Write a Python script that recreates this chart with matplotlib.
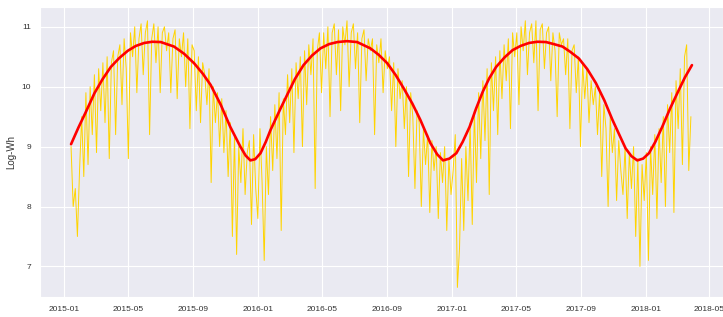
import numpy as np
import pandas as pd
import matplotlib
matplotlib.use("Agg")
import matplotlib.pyplot as plt
import matplotlib.dates as mdates
import seaborn as sns

sns.set_style("darkgrid")
plt.rcParams['font.family'] = ['Liberation Sans', 'DejaVu Sans']

# daily log-Wh readings, sampled every 4 days from 2015-01-14
log_wh_2015 = [
    9.0, 8.0, 8.3, 7.5, 8.6,
    9.5, 8.5, 9.9, 8.7, 10.0, 9.2, 10.2,
    8.9, 10.3, 9.6, 10.4, 9.4, 10.5, 8.8, 10.4,
    10.6, 9.2, 10.5, 10.7, 9.7, 10.8, 10.3,
    8.8, 10.9, 10.5, 11.0, 9.9, 10.8, 11.05, 10.2,
    10.9, 11.1, 9.2, 10.8, 11.05, 10.4, 11.0, 9.9,
    10.9, 11.0, 10.6, 10.9, 9.9, 10.8, 10.95,
    9.8, 10.8, 10.5, 10.9, 10.0, 10.8, 9.3, 10.7,
    10.6, 9.6, 10.5, 9.4, 10.4, 10.2, 9.7,
    10.3, 8.4, 10.0, 9.4, 9.9, 9.0, 9.8, 8.9,
    9.6, 8.5, 9.4, 7.5, 9.2, 7.2, 9.0, 8.4,
    9.3, 8.2, 8.9, 9.1, 7.7, 9.2, 8.3,
]
log_wh_2016 = [
    7.8, 9.3, 8.4, 7.1, 9.0, 8.2, 9.5, 8.6,
    9.7, 8.8, 9.9, 7.6, 9.8, 9.2, 10.2,
    9.4, 10.3, 8.9, 10.4, 9.8, 10.5, 9.0, 10.6,
    9.7, 10.7, 10.2, 10.8, 8.3, 10.6, 10.9, 9.9,
    10.9, 10.3, 11.0, 9.5, 10.9, 11.05, 10.2,
    10.95, 9.6, 11.0, 10.7, 11.1, 10.0, 10.9, 11.05,
    10.3, 10.9, 9.4, 10.8, 10.95, 10.1, 10.8, 10.6,
    10.8, 9.2, 10.7, 10.4, 10.8, 9.9, 10.6, 10.3,
    10.5, 9.6, 10.4, 9.0, 10.3, 9.8, 10.1,
    9.3, 10.0, 8.5, 9.9, 9.5, 8.3, 9.6, 9.4,
    8.0, 9.3, 8.7, 9.2, 7.9, 9.1, 8.6,
    9.0, 7.8, 8.9, 8.4, 9.0, 7.6, 8.8, 8.2,
]
log_wh_2017 = [
    8.6, 9.2, 6.65, 7.3, 8.8, 7.6, 9.0, 8.1,
    9.4, 7.7, 9.6, 8.4, 9.9, 8.8, 10.1,
    9.1, 10.3, 8.2, 10.4, 9.6, 10.5, 9.2, 10.6,
    9.8, 10.7, 10.1, 10.8, 9.3, 10.9, 10.5,
    10.9, 9.7, 11.0, 10.6, 11.1, 10.2, 10.9, 11.05,
    10.4, 11.1, 9.6, 10.95, 11.05, 10.3, 10.9,
    11.0, 10.1, 10.9, 10.6, 9.5, 10.9, 10.7, 10.8,
    10.2, 10.8, 9.3, 10.6, 10.7, 9.9, 10.5, 9.0,
    10.4, 9.8, 10.3, 9.4, 10.1, 9.7, 10.0,
    9.2, 9.9, 8.5, 9.7, 9.3, 8.0, 9.5, 8.9,
    9.3, 8.1, 9.1, 8.6, 8.2, 9.0, 7.8, 8.9,
    8.3, 9.0, 7.5, 8.8, 7.0, 8.7, 8.1,
]
log_wh_2018 = [
    8.9, 7.1, 9.0, 8.2, 9.2, 7.8, 9.3, 8.4,
    9.5, 8.0, 9.7, 8.9, 9.9, 7.9, 10.1,
    9.3, 10.3, 8.7, 10.5, 10.7, 8.6, 9.5,
]
log_wh = log_wh_2015 + log_wh_2016 + log_wh_2017 + log_wh_2018
obs_dates = pd.date_range("2015-01-14", periods=len(log_wh), freq="4D")

# seasonal fit curve
fit_dates = pd.to_datetime([
    "2015-01-14", "2015-01-28", "2015-02-11", "2015-02-27", "2015-03-14",
    "2015-03-30", "2015-04-15", "2015-05-01", "2015-05-16", "2015-06-01",
    "2015-06-16", "2015-07-02", "2015-07-27", "2015-08-15", "2015-09-03",
    "2015-09-19", "2015-10-04", "2015-10-23", "2015-11-10", "2015-11-29",
    "2015-12-09", "2015-12-18", "2015-12-27", "2016-01-06", "2016-01-16",
    "2016-01-25", "2016-02-13", "2016-02-25", "2016-03-11", "2016-03-27",
    "2016-04-12", "2016-04-28", "2016-05-14", "2016-05-30", "2016-06-17",
    "2016-07-06", "2016-07-31", "2016-08-16", "2016-09-01", "2016-09-17",
    "2016-10-02", "2016-10-18", "2016-11-02", "2016-11-21", "2016-12-04",
    "2016-12-15", "2016-12-27", "2017-01-09", "2017-01-21", "2017-02-03",
    "2017-02-15", "2017-02-28", "2017-03-12", "2017-03-25", "2017-04-10",
    "2017-04-25", "2017-05-10", "2017-05-26", "2017-06-11", "2017-06-27",
    "2017-07-12", "2017-07-28", "2017-08-12", "2017-08-28", "2017-09-13",
    "2017-09-29", "2017-10-15", "2017-10-30", "2017-11-12", "2017-11-24",
    "2017-12-05", "2017-12-16", "2017-12-27", "2018-01-07", "2018-01-19",
    "2018-02-01", "2018-02-16", "2018-03-04", "2018-03-16", "2018-03-29",
])
fit_vals = [
    9.04, 9.32, 9.58, 9.89, 10.12,
    10.33, 10.48, 10.60, 10.68, 10.73,
    10.75, 10.745, 10.67, 10.55, 10.39,
    10.22, 10.03, 9.70, 9.33, 9.00,
    8.85, 8.77, 8.79, 8.89, 9.08,
    9.28, 9.64, 9.86, 10.13, 10.36,
    10.52, 10.64, 10.71, 10.745, 10.76,
    10.745, 10.64, 10.53, 10.39, 10.19,
    9.97, 9.72, 9.45, 9.06, 8.87,
    8.77, 8.80, 8.89, 9.08, 9.33,
    9.63, 9.92, 10.14, 10.33, 10.49,
    10.61, 10.68, 10.73, 10.75, 10.745,
    10.71, 10.67, 10.58, 10.47, 10.29,
    10.06, 9.77, 9.45, 9.20, 8.97,
    8.84, 8.77, 8.80, 8.89, 9.08,
    9.33, 9.64, 9.94, 10.16, 10.36,
]

fig = plt.figure(figsize=(7.23, 3.17), dpi=100)
ax = fig.add_axes([40 / 723, 20 / 317, 683 / 723, 290 / 317])

ax.plot(obs_dates, log_wh, color='#FFD400', linewidth=0.7)
ax.plot(fit_dates, fit_vals, color='red', linewidth=1.9)

ax.set_ylim(6.49, 11.33)
ax.set_yticks([7, 8, 9, 10, 11])
ax.xaxis.set_major_locator(mdates.MonthLocator(bymonth=[1, 5, 9]))
ax.xaxis.set_major_formatter(mdates.DateFormatter('%Y-%m'))
ax.tick_params(labelsize=6, colors='#333333', pad=3)
ax.set_ylabel('Log-Wh', fontsize=7, color='#333333')

fig.savefig('out.png', dpi=100)
